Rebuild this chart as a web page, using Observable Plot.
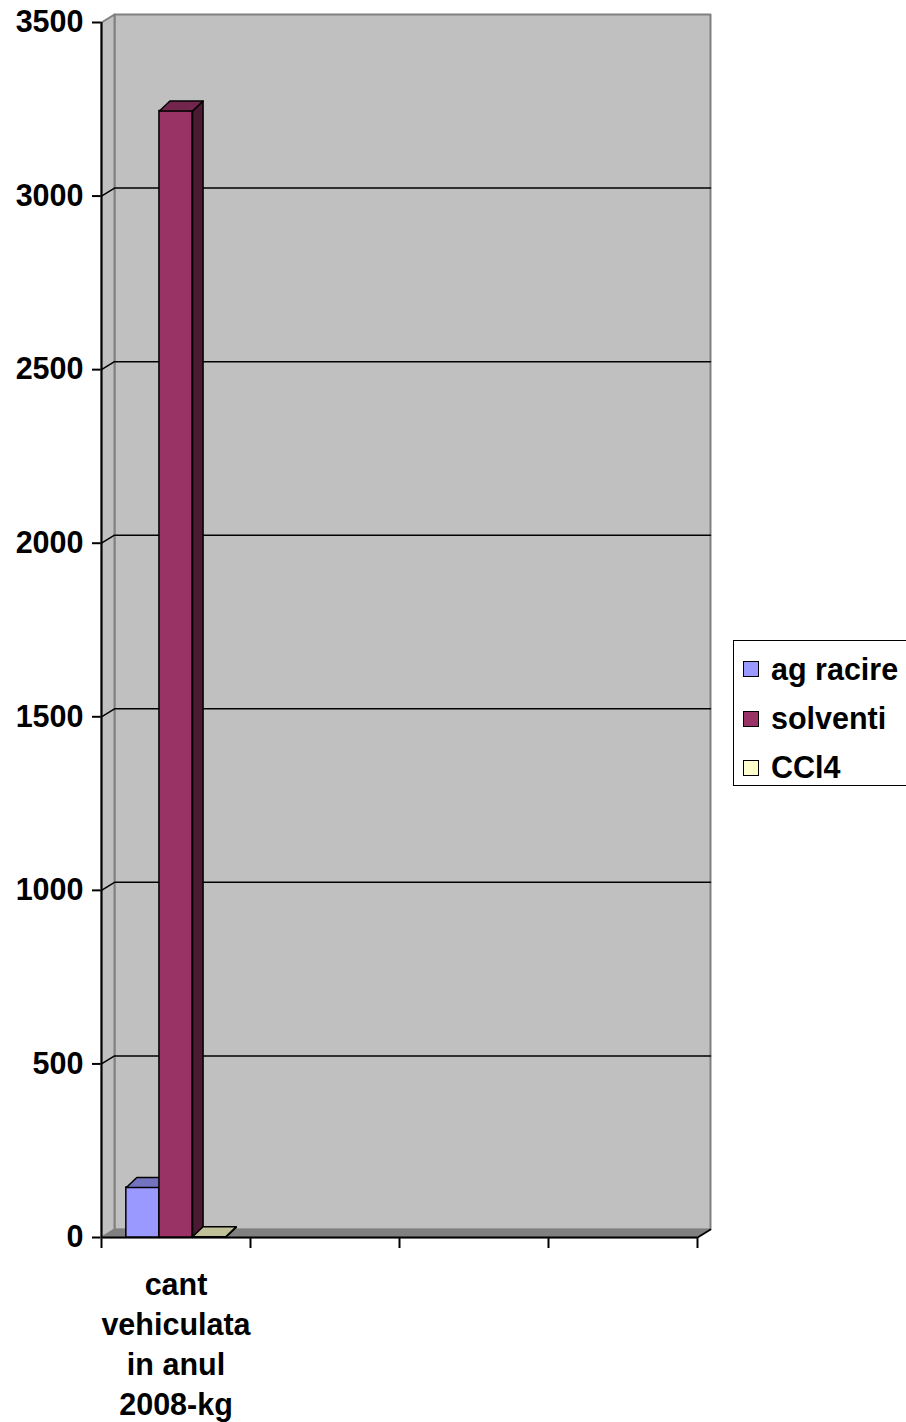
<!DOCTYPE html>
<html>
<head>
<meta charset="utf-8">
<script src="https://cdn.jsdelivr.net/npm/d3@7"></script>
<script src="https://cdn.jsdelivr.net/npm/@observablehq/plot@0.6"></script>
<style>
  html, body { margin: 0; padding: 0; background: #fff; overflow: hidden; }
  #chart { position: relative; width: 906px; height: 1422px; font-family: "Liberation Sans", Arial, sans-serif; font-weight: bold; }
  #chart svg g[aria-label*="axis"] path, #chart svg g[aria-label*="axis"] line { stroke-width: 2px; }
  .legend { position: absolute; left: 733px; top: 640px; width: 190px; height: 146px; border: 1.5px solid #000; box-sizing: border-box; background: #fff; }
  .legend .item { position: absolute; left: 9px; display: flex; align-items: center; font-size: 30.5px; line-height: 31px; white-space: nowrap; color: #000; }
  .legend .sw { width: 16px; height: 16px; border: 1.5px solid #000; box-sizing: border-box; margin-right: 12px; }
</style>
</head>
<body>
<div id="chart"></div>
<script>
// Quantities handled in 2008 (kg)
const categories = ["cant vehiculata in anul 2008-kg"];
const series = ["ag racire", "solventi", "CCl4"];
const values = [144, 3245, 2];
const palette = ["#9999FF", "#993366", "#FFFFCC"];
const yTicks = [0, 500, 1000, 1500, 2000, 2500, 3000, 3500];
const slots = 4; // category slots along the floor

// Frame
const W = 906, H = 1422;
const mL = 101, mR = 209, mT = 22, mB = 185;
const yMax = yTicks[yTicks.length - 1];
const fontSize = 30.5;

// pixel -> data unit factors, used for the pseudo-3D depth offsets
const kx = (W - mL - mR) / slots;
const ky = (H - mT - mB) / yMax;
const wdx = 13 / kx, wdy = 8 / ky;      // wall depth
const bdx = 10.5 / kx, bdy = 10 / ky;   // bar depth

// Bars are laid out like a clustered column with a 150% gap
const gapWidth = 1.5;
const bw = 1 / (series.length + gapWidth);
const bars = series.map((s, j) => {
  const x1 = gapWidth / 2 * bw + j * bw;
  return {series: s, x1, x2: x1 + bw, value: values[j], color: palette[j]};
});

const poly = (pts) => pts.concat([pts[0]]).map(([x, y]) => ({x, y}));
const shade = (c, k) => d3.color(c).darker(k).formatHex();

// Category labels wrapped on word boundaries
function wrap(text, max) {
  const lines = [];
  let cur = "";
  for (const w of text.split(" ")) {
    if (cur && (cur + " " + w).length > max) { lines.push(cur); cur = w; }
    else cur = cur ? cur + " " + w : w;
  }
  if (cur) lines.push(cur);
  return lines.join("\n");
}
const catLabels = categories.map((c, i) => ({x: i + 0.5, label: wrap(c, 10)}));

// Walls and floor
const sideWall = poly([[0, 0], [0, yMax], [wdx, yMax + wdy], [wdx, wdy]]);
const backWall = poly([[wdx, wdy], [slots + wdx, wdy], [slots + wdx, yMax + wdy], [wdx, yMax + wdy]]);
const floor = poly([[0, 0], [slots, 0], [slots + wdx, wdy], [wdx, wdy]]);
const gridPts = yTicks.filter(v => v > 0 && v < yMax)
  .flatMap(v => [{v, x: 0, y: v}, {v, x: wdx, y: v + wdy}, {v, x: slots + wdx, y: v + wdy}]);

const barMarks = bars.flatMap(b => [
  // right side face
  Plot.line(poly([[b.x2, 0], [b.x2 + bdx, bdy], [b.x2 + bdx, b.value + bdy], [b.x2, b.value]]),
    {x: "x", y: "y", fill: shade(b.color, 2), stroke: "#000", strokeWidth: 1.5, strokeLinejoin: "round"}),
  // front face
  Plot.rectY([b], {x1: "x1", x2: "x2", y1: 0, y2: "value", fill: b.color, stroke: "#000", strokeWidth: 1.5}),
  // top face
  Plot.line(poly([[b.x1, b.value], [b.x2, b.value], [b.x2 + bdx, b.value + bdy], [b.x1 + bdx, b.value + bdy]]),
    {x: "x", y: "y", fill: shade(b.color, 0.8), stroke: "#000", strokeWidth: 1.5, strokeLinejoin: "round"})
]);

const chart = Plot.plot({
  width: W,
  height: H,
  marginLeft: mL,
  marginRight: mR,
  marginTop: mT,
  marginBottom: mB,
  style: {fontFamily: "'Liberation Sans', Arial, sans-serif", fontSize: fontSize + "px", fontWeight: "bold", color: "#000", background: "transparent", overflow: "visible"},
  x: {domain: [0, slots], ticks: d3.range(slots + 1), tickFormat: () => "", tickSize: 11, label: null},
  y: {domain: [0, yMax], ticks: yTicks, tickFormat: d => String(d), tickSize: 9, tickPadding: 9, label: null, line: true},
  marks: [
    Plot.line(backWall, {x: "x", y: "y", fill: "#C0C0C0", stroke: "#808080", strokeWidth: 2}),
    Plot.line(sideWall, {x: "x", y: "y", fill: "#C0C0C0", stroke: "#808080", strokeWidth: 2}),
    Plot.line(gridPts, {x: "x", y: "y", z: "v", stroke: "#000", strokeWidth: 1.5}),
    Plot.line(floor, {x: "x", y: "y", fill: "#808080", stroke: "#808080", strokeWidth: 1.5}),
    Plot.ruleY([0], {x1: 0, x2: slots, stroke: "#000", strokeWidth: 2}),
    Plot.line([{x: slots, y: 0}, {x: slots + wdx, y: wdy}], {x: "x", y: "y", stroke: "#000", strokeWidth: 1.5}),
    Plot.ruleX([0], {y1: 0, y2: yMax, stroke: "#000", strokeWidth: 2}),
    ...barMarks,
    Plot.text(catLabels, {x: "x", y: 0, text: "label", lineAnchor: "top", dy: 29.5, lineHeight: 40 / fontSize, fontSize, fontWeight: "bold", fill: "#000"})
  ]
});

const root = document.getElementById("chart");
root.appendChild(chart);

// Legend placed to the right of the plot
const legend = document.createElement("div");
legend.className = "legend";
const rowTops = [12.5, 62, 111];
series.forEach((s, j) => {
  const item = document.createElement("div");
  item.className = "item";
  item.style.top = rowTops[j] + "px";
  const sw = document.createElement("span");
  sw.className = "sw";
  sw.style.background = palette[j];
  const t = document.createElement("span");
  t.textContent = s;
  item.appendChild(sw);
  item.appendChild(t);
  legend.appendChild(item);
});
root.appendChild(legend);
</script>
</body>
</html>
